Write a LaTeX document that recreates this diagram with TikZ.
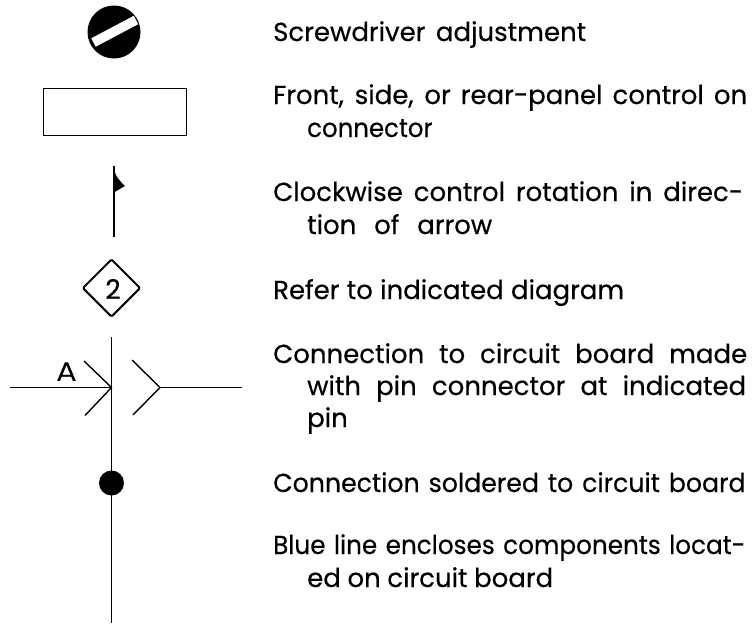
\documentclass[tikz,border=0pt]{standalone}
\usepackage{fontspec}
\setmainfont{Poppins}
\newfontfamily\lblfont{Poppins}[FakeBold=0.45]
\usetikzlibrary{shapes.geometric}
\newcommand{\fitline}[2]{\makebox[#1pt][s]{#2}}
\tikzset{
  x=1pt,y=-1pt,
  lbl/.style={anchor=base west,inner sep=0pt,font=\lblfont\fontsize{26}{30}\selectfont,text=black},
  wire/.style={draw=black,line width=1.4pt},
  boxsym/.style={draw=black,line width=1.7pt,fill=white,minimum width=143pt,minimum height=47pt,inner sep=0pt},
  dia/.style={draw=black,line width=2pt,diamond,minimum width=58pt,minimum height=58pt,inner sep=0pt,rounded corners=1.5pt},
  dot/.style={circle,fill=black,inner sep=0pt,minimum size=25pt}
}
\begin{document}
\begin{tikzpicture}
\useasboundingbox (0,0) rectangle (753,624);
% screwdriver
\node[circle,fill=black,inner sep=0pt,minimum size=53pt] (screw) at (114,32) {};
\draw[white,line width=9.5pt] (93.5,42.5) -- (136,20);
% box
\node[boxsym] (panel) at (115,112) {};
% flag
\coordinate (ft) at (113.8,166);
\coordinate (fb) at (113.8,237);
\draw[wire] (ft) -- (fb);
\fill[black] (113.8,167) .. controls (115,177) and (120,181) .. (125,186) -- (113.8,192.5) -- cycle;
% diamond
\node[dia] (ref) at (111.5,288) {};
\node[font=\lblfont\fontsize{27}{30}\selectfont,inner sep=0pt] (refnum) at (113,289) {2};
% connector
\coordinate (vt) at (111.5,337);
\coordinate (vj) at (111.5,387.5);
\coordinate (vb) at (111.5,623);
\coordinate (il) at (10,387.5);
\coordinate (ir) at (242,387.5);
\coordinate (c1) at (84,361);
\coordinate (c2) at (85,415.5);
\coordinate (c3) at (160,387.5);
\coordinate (c4) at (132,360);
\coordinate (c5) at (133,415);
\draw[wire] (vt) -- (vb);
\draw[wire] (il) -- (vj);
\draw[wire] (c3) -- (ir);
\draw[wire] (c1) -- (vj) -- (c2);
\draw[wire] (c4) -- (c3) -- (c5);
\node[font=\fontsize{27}{30}\selectfont,inner sep=0pt] (pin) at (66.5,372) {\scalebox{1.15}[1]{A}};
\node[dot] (solder) at (111.5,483) {};
% text
\node[lbl] (t1) at (273,41) {\fitline{313}{Screwdriver adjustment}};
\node[lbl] (t2) at (273,104) {\fitline{474}{Front, side, or rear-panel control on}};
\node[lbl] (t3) at (307,137) {\scalebox{0.94}[1]{connector}};
\node[lbl] (t4) at (273,201) {\fitline{470}{Clockwise control rotation in direc-}};
\node[lbl] (t5) at (307,234) {\fitline{185}{tion of arrow}};
\node[lbl] (t6) at (273,299) {\fitline{351}{Refer to indicated diagram}};
\node[lbl] (t7) at (273,363) {\fitline{474}{Connection to circuit board made}};
\node[lbl] (t8) at (307,395) {\fitline{439}{with pin connector at indicated}};
\node[lbl] (t9) at (307,427) {pin};
\node[lbl] (t10) at (273,492) {\scalebox{0.97}[1]{\fitline{487}{Connection soldered to circuit board}}};
\node[lbl] (t11) at (273,554) {\scalebox{0.95}[1]{\fitline{497}{Blue line encloses components locat-}}};
\node[lbl] (t12) at (307,587) {\fitline{246}{ed on circuit board}};
\end{tikzpicture}
\end{document}
